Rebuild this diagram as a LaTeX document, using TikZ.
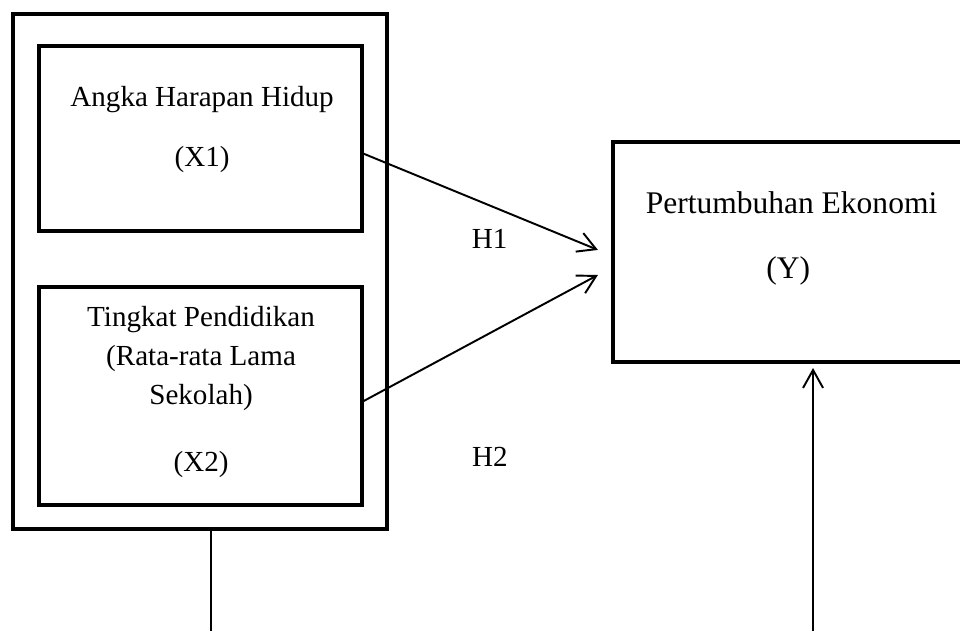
\documentclass[tikz,border=0pt]{standalone}
\usepackage{fontspec}
\setmainfont{Liberation Serif}
\usetikzlibrary{arrows.meta,positioning,calc}

\begin{document}
\begin{tikzpicture}[
    box/.style={rectangle, draw=black, line width=1.7pt, outer sep=0pt},
    txt/.style={anchor=base, inner sep=0pt, font=\fontsize{12}{14}\selectfont},
    bigtxt/.style={txt, font=\fontsize{13}{15}\selectfont},
    arrow/.style={-{Straight Barb[length=2.6mm,width=2.9mm]}, line width=0.8pt}
]
    \useasboundingbox (0,0) rectangle (13.92,-9.15);

    % Outer frame
    \node[box, minimum width=5.42cm, minimum height=7.47cm] (frame) at (2.9,-3.937) {};

    % Independent variables
    \node[box, minimum width=4.68cm, minimum height=2.68cm] (x1) at (2.907,-2.008) {};
    \node[box, minimum width=4.68cm, minimum height=3.16cm] (x2) at (2.907,-5.742) {};

    % Dependent variable
    \node[box, minimum width=5.13cm, minimum height=3.19cm] (y) at (11.455,-3.654) {};

    % Box texts
    \node[txt] (x1name) at (2.93,-1.544) {Angka Harapan Hidup};
    \node[txt] (x1code) at (2.93,-2.42) {(X1)};
    \node[txt] (x2name) at (2.915,-4.727) {Tingkat Pendidikan};
    \node[txt] (x2sub) at (2.915,-5.293) {(Rata-rata Lama};
    \node[txt] (x2subb) at (2.915,-5.858) {Sekolah)};
    \node[txt] (x2code) at (2.915,-6.83) {(X2)};
    \node[bigtxt] (yname) at (11.477,-3.096) {Pertumbuhan Ekonomi};
    \node[bigtxt] (ycode) at (11.43,-4.031) {(Y)};

    % Hypotheses
    \node[txt] (h1) at (7.098,-3.61) {H1};
    \node[txt] (h2) at (7.105,-6.767) {H2};

    % Arrows
    \draw[arrow] ([yshift=-0.21cm]x1.east) -- ([xshift=-0.22cm,yshift=0.03cm]y.west);
    \draw[arrow] ([yshift=-0.087cm]x2.east) -- ([xshift=-0.22cm,yshift=-0.333cm]y.west);

    \coordinate (framefoot) at (3.06,-9.15);
    \coordinate (yfoot) at (11.789,-9.15);
    \draw[line width=0.8pt] (framefoot |- frame.south) -- (framefoot);
    \draw[arrow, shorten >=0.087cm] (yfoot) -- (yfoot |- y.south);
\end{tikzpicture}
\end{document}
